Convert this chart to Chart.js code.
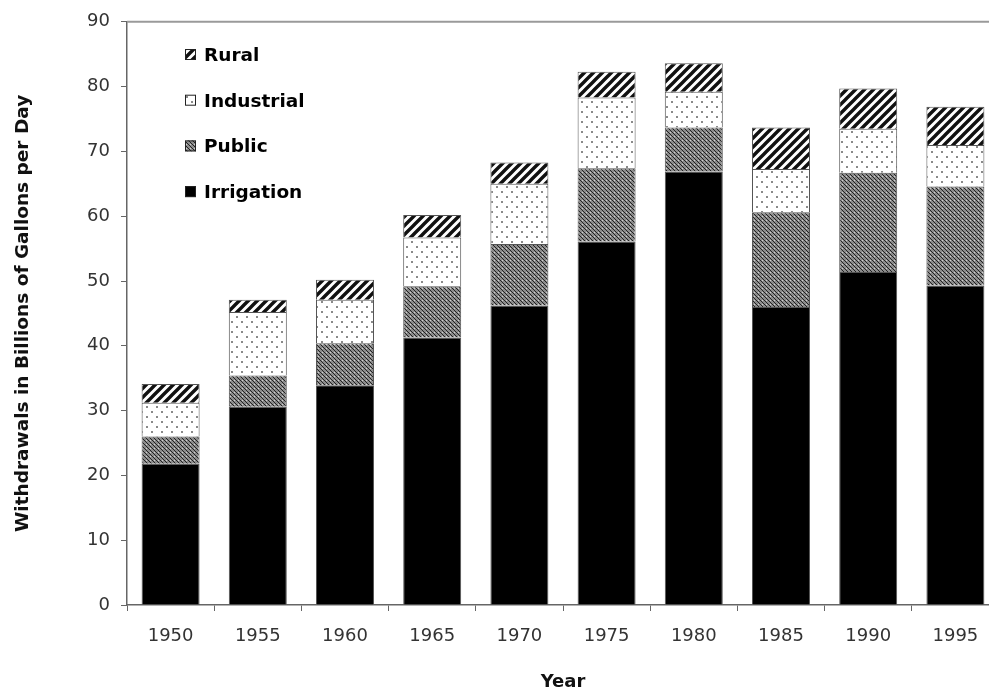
<!DOCTYPE html>
<html>
<head>
<meta charset="utf-8">
<script src="https://cdn.jsdelivr.net/npm/chart.js@4/dist/chart.umd.min.js"></script>
<style>
  html, body { margin: 0; padding: 0; background: #fff; overflow: hidden; }
  #wrap { position: absolute; left: 0; top: 0; }
</style>
</head>
<body>
<div id="wrap"><canvas id="chart" width="1000" height="695"></canvas></div>
<script>
// data (billions of gallons per day)
const years = ["1950","1955","1960","1965","1970","1975","1980","1985","1990","1995"];
const irrigation = [21.8, 30.6, 33.9, 41.3, 46.2, 56.1, 66.9, 46.0, 51.4, 49.3];
const publicSupply = [4.2, 4.8, 6.5, 7.9, 9.5, 11.3, 6.8, 14.6, 15.3, 15.3];
const industrial = [5.2, 9.8, 6.7, 7.5, 9.3, 10.9, 5.5, 6.7, 6.8, 6.4];
const rural = [2.9, 1.9, 3.1, 3.5, 3.3, 4.0, 4.4, 6.4, 6.2, 5.9];
const yTicks = [0, 10, 20, 30, 40, 50, 60, 70, 80, 90];

const FONT = "'DejaVu Sans', Verdana, sans-serif";

// fill patterns
function makePattern(draw, size) {
  const c = document.createElement("canvas");
  c.width = size; c.height = size;
  draw(c.getContext("2d"), size);
  return c.getContext("2d").createPattern(c, "repeat");
}

const ctx = document.getElementById("chart").getContext("2d");

const stripes = makePattern((g, s) => {
  g.fillStyle = "#fff";
  g.fillRect(0, 0, s, s);
  g.strokeStyle = "#111";
  g.lineWidth = 3.4;
  g.beginPath();
  g.moveTo(-2, s + 2); g.lineTo(s + 2, -2);
  g.moveTo(-2 - s / 2, s / 2 + 2); g.lineTo(s / 2 + 2, -2 - s / 2);
  g.moveTo(s / 2 - 2, s * 1.5 + 2); g.lineTo(s * 1.5 + 2, s / 2 - 2);
  g.stroke();
}, 9);

const dots = makePattern((g, s) => {
  g.fillStyle = "#fff";
  g.fillRect(0, 0, s, s);
  g.fillStyle = "#8a8a8a";
  g.fillRect(1, 1, 2, 2);
  g.fillRect(6, 6, 2, 2);
}, 10);

const hatch = makePattern((g, s) => {
  g.fillStyle = "#8c8c8c";
  g.fillRect(0, 0, s, s);
  g.fillStyle = "#222";
  for (let i = 0; i < s; i++) g.fillRect(i, i, 1, 1);
  g.fillStyle = "#cfcfcf";
  g.fillRect(2, 0, 1, 1);
}, 4);

const topLine = {
  id: "topLine",
  afterDraw(chart) {
    const g = chart.ctx, a = chart.chartArea;
    g.save();
    g.strokeStyle = "#9a9a9a";
    g.lineWidth = 2;
    g.beginPath();
    g.moveTo(a.left, a.top);
    g.lineTo(chart.width, a.top);
    g.stroke();
    g.restore();
  }
};

// legend drawn inside the plot, top-left, rural first
const innerLegend = {
  id: "innerLegend",
  afterDraw(chart) {
    const g = chart.ctx;
    const sets = chart.data.datasets.slice().reverse();
    g.save();
    g.font = "bold 18.5px " + FONT;
    g.textBaseline = "middle";
    sets.forEach((ds, i) => {
      const y = 55 + i * 45.7;
      g.fillStyle = ds.backgroundColor;
      g.fillRect(185, y - 6, 11, 11);
      g.strokeStyle = "#222";
      g.lineWidth = 1;
      g.strokeRect(185.5, y - 5.5, 10, 10);
      g.fillStyle = "#000";
      g.fillText(ds.label, 204, y + 1);
    });
    g.restore();
  }
};

const border = { borderColor: "#555", borderWidth: 1 };

new Chart(ctx, {
  type: "bar",
  data: {
    labels: years,
    datasets: [
      { label: "Irrigation", data: irrigation, backgroundColor: "#000", ...border },
      { label: "Public", data: publicSupply, backgroundColor: hatch, ...border },
      { label: "Industrial", data: industrial, backgroundColor: dots, ...border },
      { label: "Rural", data: rural, backgroundColor: stripes, ...border }
    ]
  },
  options: {
    responsive: false,
    animation: false,
    layout: { padding: { left: 0, top: 21, right: 1, bottom: 0 } },
    datasets: { bar: { categoryPercentage: 1, barPercentage: 0.665 } },
    plugins: { legend: { display: false }, tooltip: { enabled: false } },
    scales: {
      x: {
        stacked: true,
        afterFit: s => { s.height = 90; },
        border: { color: "#666", width: 1.5 },
        grid: { drawOnChartArea: false, tickLength: 6, color: "#666", offset: true },
        ticks: { color: "#333", padding: 15, font: { family: FONT, size: 18 } },
        title: {
          display: true, text: "Year", color: "#111",
          font: { family: FONT, size: 18, weight: "bold" },
          padding: { top: 0, bottom: 2 }
        }
      },
      y: {
        stacked: true,
        min: 0, max: 90,
        afterFit: s => { s.width = 127; },
        afterBuildTicks: s => { s.ticks = yTicks.map(v => ({ value: v })); },
        border: { color: "#666", width: 1.5 },
        grid: { drawOnChartArea: false, tickLength: 6, color: "#666" },
        ticks: { color: "#333", padding: 11, font: { family: FONT, size: 18 } },
        title: {
          display: true, text: "Withdrawals in Billions of Gallons per Day", color: "#111",
          font: { family: FONT, size: 18.5, weight: "bold" },
          padding: { top: 12, bottom: 0 }
        }
      }
    }
  },
  plugins: [topLine, innerLegend]
});
</script>
</body>
</html>
